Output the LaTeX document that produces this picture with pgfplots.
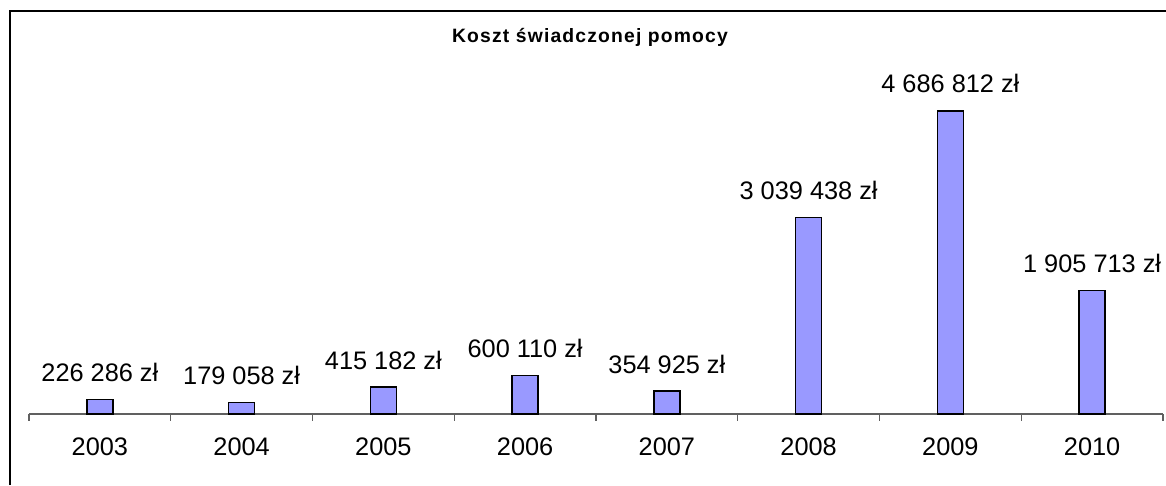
\documentclass[border=0pt]{standalone}
\usepackage{fontspec}
\setmainfont{Liberation Sans}
\newfontfamily\titlefont[LetterSpace=6]{Liberation Sans}
\usepackage{pgfplots}
\pgfplotsset{compat=1.18}
\definecolor{barblue}{HTML}{9999FF}
\definecolor{axisgray}{HTML}{606060}

\begin{document}
\begin{tikzpicture}
\path[use as bounding box] (0,0) rectangle (874.5pt,363.75pt);
\draw[line width=1pt] (7.5pt,0) -- (7.5pt,355.5pt) -- (874.5pt,355.5pt);
\node[anchor=base, inner sep=0pt] at (442.5pt,331.5pt)
  {\titlefont\bfseries\fontsize{14.5}{14.5}\selectfont Koszt świadczonej pomocy};
\begin{axis}[
  at={(21.75pt,53.25pt)}, anchor=south west,
  scale only axis, width=850.5pt, height=291pt,
  xmin=-0.5, xmax=7.5, ymin=0, ymax=6000000,
  axis y line=none, axis x line*=bottom,
  x axis line style={axisgray, line width=0.8pt},
  xtick={0,...,7},
  xticklabels={2003,2004,2005,2006,2007,2008,2009,2010},
  major tick length=0pt,
  minor xtick={-0.5,0.5,...,7.5},
  minor tick length=5.25pt,
  tick align=outside,
  minor tick style={axisgray, line width=0.8pt},
  xticklabel style={anchor=base, yshift=-31.5pt, font=\fontsize{19}{19}\selectfont},
  ybar, bar width=19.5pt,
  nodes near coords, point meta=explicit symbolic,
  nodes near coords style={anchor=base, inner sep=0pt, yshift=13.5pt,
    font=\fontsize{19}{19}\selectfont},
  clip=false,
]
\addplot[fill=barblue, draw=black, line width=1pt] coordinates {
  (0,226286) [226 286 zł]
  (1,179058) [179 058 zł]
  (2,415182) [415 182 zł]
  (3,600110) [600 110 zł]
  (4,354925) [354 925 zł]
  (5,3039438) [3 039 438 zł]
  (6,4686812) [4 686 812 zł]
  (7,1905713) [1 905 713 zł]
};
\end{axis}
\end{tikzpicture}
\end{document}
